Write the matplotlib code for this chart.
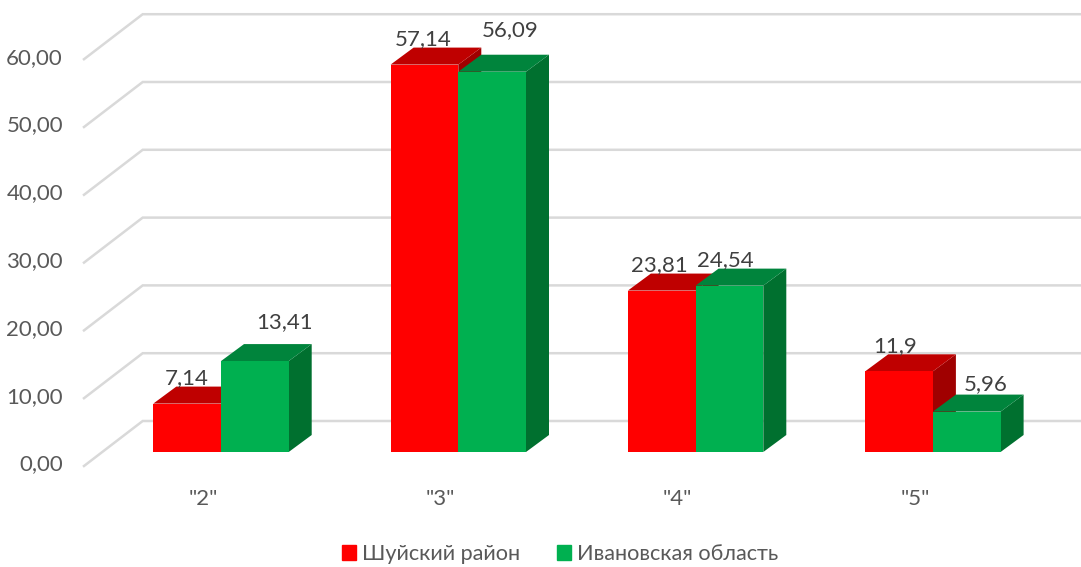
import matplotlib
matplotlib.use("Agg")
import matplotlib.pyplot as plt
from matplotlib.patches import Patch

categories = ['"2"', '"3"', '"4"', '"5"']
series_names = ["Шуйский район", "Ивановская область"]
shuya_values = [7.14, 57.14, 23.81, 11.9]
ivanovo_values = [13.41, 56.09, 24.54, 5.96]
shuya_labels = ["7,14", "57,14", "23,81", "11,9"]
ivanovo_labels = ["13,41", "56,09", "24,54", "5,96"]
y_ticks = [0, 10, 20, 30, 40, 50, 60]

W, H = 1081, 567
PX_X = 237.3           # pixels per category
PX_Y = 6.78            # pixels per value unit
X0, Y0 = 221.0, 452.0  # pixel position of category 0 / value 0

plt.rcParams["font.family"] = ["Lato", "DejaVu Sans"]
fig = plt.figure(figsize=(W / 100, H / 100), dpi=100)
ax = fig.add_axes([0, 0, 1, 1])
ax.set_xlim(-X0 / PX_X, (W - X0) / PX_X)
ax.set_ylim((Y0 - H) / PX_Y, Y0 / PX_Y)
ax.axis("off")

BAR_W = 67.7 / PX_X
DX, DY = 23 / PX_X, 17 / PX_Y
GRID = "#D9D9D9"
TICK_C = "#595959"
LABEL_C = "#404040"

# back wall grid + floor diagonals
back_x = (142.7 - X0) / PX_X
front_x = (84 - X0) / PX_X
back_dy = (Y0 - 421) / PX_Y
front_dy = (Y0 - 466) / PX_Y
for v in y_ticks:
    ax.plot([front_x, back_x, ax.get_xlim()[1]],
            [v + front_dy, v + back_dy, v + back_dy],
            color=GRID, lw=1.8, solid_joinstyle="miter", zorder=1)
    ax.annotate(f"{v},00", (63 / PX_X - X0 / PX_X, v), xytext=(0, -9),
                textcoords="offset points", ha="right", va="center",
                fontsize=16, color=TICK_C)


def box(x, value, front, top, side, z):
    l, r = x, x + BAR_W
    ax.fill([l, r, r, l], [0, 0, value, value], color=front, lw=0, zorder=z + 0.2)
    ax.fill([l, r, r + DX, l + DX], [value, value, value + DY, value + DY],
            color=top, lw=0, zorder=z + 0.1)
    ax.fill([r, r + DX, r + DX, r], [0, DY, value + DY, value],
            color=side, lw=0, zorder=z)


red_style = ("#FF0000", "#BF0000", "#A00000")
green_style = ("#00B050", "#00843C", "#00702F")
# label offsets from the bar's front-top centre, in pixels
red_off = [(0, 25), (-1, 25), (-2, 25), (-4, 25)]
green_off = [(30, 39), (18, 42), (-4, 26), (19, 27)]

for i, cat in enumerate(categories):
    box(i - BAR_W, shuya_values[i], *red_style, z=2 + i)
    box(i, ivanovo_values[i], *green_style, z=2.5 + i)
    ax.annotate(shuya_labels[i], (i - BAR_W / 2, shuya_values[i]),
                xytext=(red_off[i][0] * .72, red_off[i][1] * .72),
                textcoords="offset points", ha="center", va="center",
                fontsize=16, color=LABEL_C, zorder=20)
    ax.annotate(ivanovo_labels[i], (i + BAR_W / 2, ivanovo_values[i]),
                xytext=(green_off[i][0] * .72, green_off[i][1] * .72),
                textcoords="offset points", ha="center", va="center",
                fontsize=16, color=LABEL_C, zorder=20)
    ax.annotate(cat, (i - 18 / PX_X, 0), xytext=(0, -33.5),
                textcoords="offset points", ha="center", va="center",
                fontsize=16, color=TICK_C)

handles = [Patch(color=red_style[0], label=series_names[0]),
           Patch(color=green_style[0], label=series_names[1])]
fig.legend(handles=handles, ncol=2, loc="center",
           bbox_to_anchor=(560 / W, 1 - 554 / H), frameon=False,
           fontsize=15.6, labelcolor=TICK_C, handlelength=0.65, handleheight=0.65,
           handletextpad=0.27, columnspacing=1.7, borderpad=0, borderaxespad=0)

fig.savefig("out.png", dpi=100)
